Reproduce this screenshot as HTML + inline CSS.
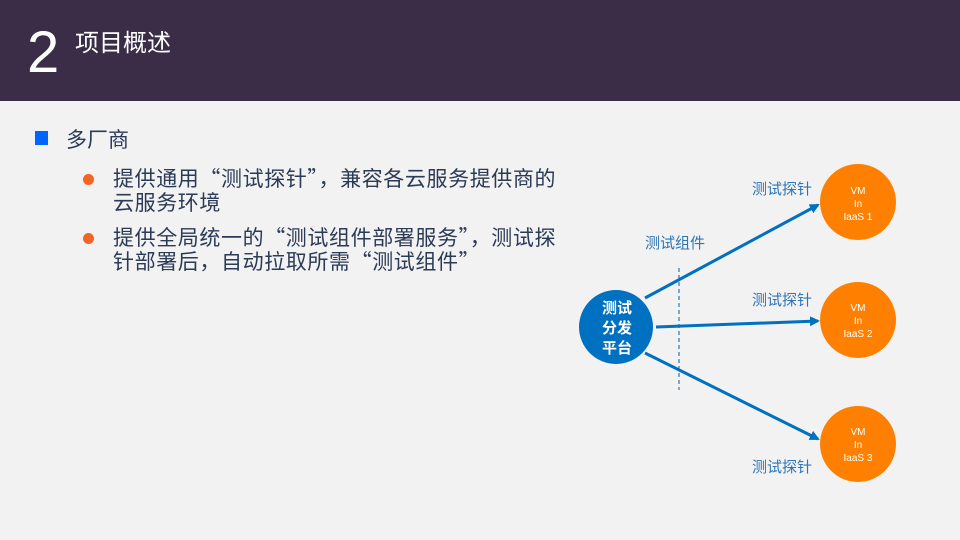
<!DOCTYPE html>
<html><head><meta charset="utf-8"><style>
body{margin:0;width:960px;height:540px;background:#f2f2f2;position:relative;overflow:hidden;font-family:"Liberation Sans","Noto Sans CJK SC",sans-serif}
.hdr{position:absolute;left:0;top:0;width:960px;height:101px;background:#3b2d48}
.t{position:absolute;white-space:nowrap}
.cj{font-family:"Noto Sans CJK SC",sans-serif}
</style></head><body>
<div class="hdr"></div>
<div class="t" style="left:27px;top:20px;font-size:58px;color:#fff;font-weight:300;line-height:66px">2</div>
<div class="t cj" style="left:75px;top:24px;font-size:24px;color:#fff;line-height:34px">项目概述</div>
<div style="position:absolute;left:35px;top:131px;width:13px;height:14px;background:#0066ff"></div>
<div class="t cj" style="left:66px;top:124px;font-size:21px;color:#2b3a55;line-height:30px">多厂商</div>
<div style="position:absolute;left:83px;top:174px;width:11px;height:11px;border-radius:50%;background:#f26522"></div>
<div style="position:absolute;left:83px;top:233px;width:11px;height:11px;border-radius:50%;background:#f26522"></div>
<div class="t cj" style="left:113px;top:166px;font-size:21px;color:#2b3a55;line-height:24px;letter-spacing:0.6px">提供通用“测试探针”，兼容各云服务提供商的<br>云服务环境</div>
<div class="t cj" style="left:113px;top:225px;font-size:21px;color:#2b3a55;line-height:24px;letter-spacing:0.6px">提供全局统一的“测试组件部署服务”，测试探<br>针部署后，自动拉取所需“测试组件”</div>
<svg width="960" height="540" style="position:absolute;left:0;top:0">
<defs><marker id="a" markerWidth="10" markerHeight="10" refX="8" refY="5" orient="auto" markerUnits="userSpaceOnUse"><path d="M0,0L10,5L0,10z" fill="#0070c0"/></marker></defs>
<line x1="679" y1="268" x2="679" y2="390" stroke="#2e75b6" stroke-width="1.2" stroke-dasharray="4,3"/>
<g stroke="#0070c0" stroke-width="3" marker-end="url(#a)">
<line x1="645" y1="298" x2="818" y2="205"/>
<line x1="656" y1="327" x2="818" y2="321"/>
<line x1="645" y1="353" x2="818" y2="439"/>
</g>
<circle cx="616" cy="327" r="37" fill="#0070c0"/>
<circle cx="858" cy="202" r="38" fill="#ff8000"/>
<circle cx="858" cy="320" r="38" fill="#ff8000"/>
<circle cx="858" cy="444" r="38" fill="#ff8000"/>
<g font-family="Liberation Sans,Noto Sans CJK SC,sans-serif" fill="#fff" font-weight="bold" font-size="15" text-anchor="middle">
<text x="617" y="313">测试</text><text x="617" y="333">分发</text><text x="617" y="353">平台</text></g>
<g font-family="Liberation Sans,sans-serif" fill="#fff" font-size="10" text-anchor="middle">
<text x="858" y="194">VM</text><text x="858" y="207">In</text><text x="858" y="220">IaaS 1</text>
<text x="858" y="311">VM</text><text x="858" y="324">In</text><text x="858" y="337">IaaS 2</text>
<text x="858" y="435">VM</text><text x="858" y="448">In</text><text x="858" y="461">IaaS 3</text></g>
<g font-family="Liberation Sans,Noto Sans CJK SC,sans-serif" fill="#2e75b6" font-size="15">
<text x="752" y="194">测试探针</text><text x="752" y="305">测试探针</text><text x="752" y="472">测试探针</text><text x="645" y="248">测试组件</text></g>
</svg>
</body></html>
